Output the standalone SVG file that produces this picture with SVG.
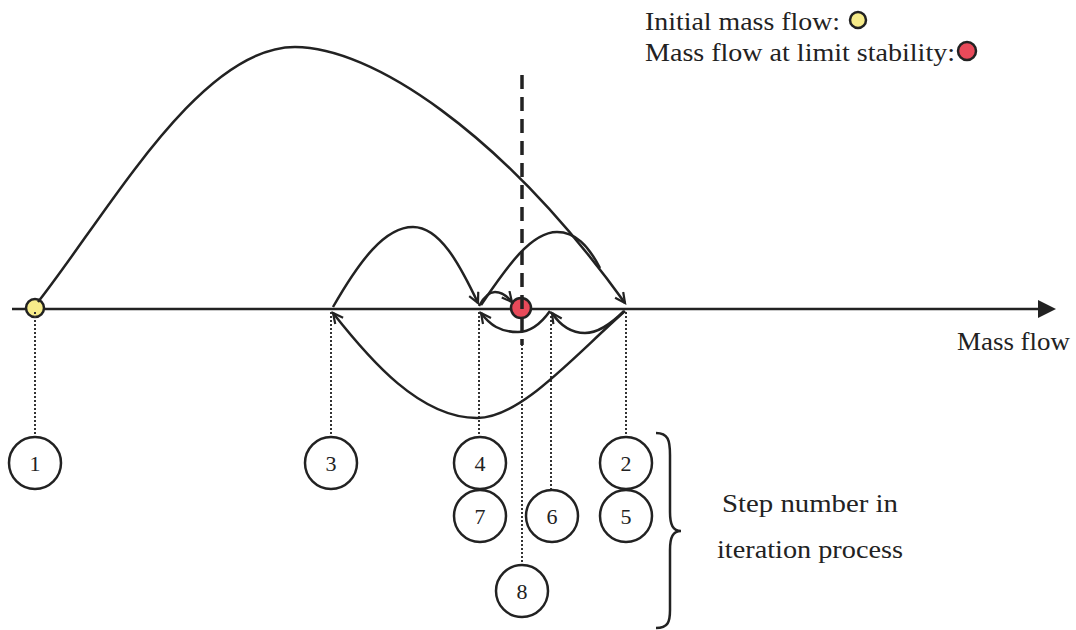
<svg xmlns="http://www.w3.org/2000/svg" width="1076" height="630" viewBox="0 0 1076 630">
<defs>
<style>
.txt{font-family:"Liberation Serif","DejaVu Serif",serif;fill:#222;}
.lbl{font-size:25px;}
.num{font-size:22px;text-anchor:middle;}
.node{fill:#fff;stroke:#222;stroke-width:2.5;}
.arc{fill:none;stroke:#222;stroke-width:2.5;}
.dot{fill:none;stroke:#333;stroke-width:2;stroke-dasharray:2,2;}
</style>
<marker id="ah" markerWidth="14" markerHeight="14" refX="11" refY="6" orient="auto" markerUnits="userSpaceOnUse">
<path d="M1,1 L11,6 L1,11" fill="none" stroke="#222" stroke-width="2.2"/>
</marker>
</defs>
<rect width="1076" height="630" fill="#fff"/>

<g id="legend">
<text class="txt lbl" x="645" y="30" textLength="195" lengthAdjust="spacingAndGlyphs">Initial mass flow:</text>
<circle cx="858" cy="20" r="8" fill="#f7ec8a" stroke="#222" stroke-width="2.5"/>
<text class="txt lbl" x="645" y="61" textLength="310" lengthAdjust="spacingAndGlyphs">Mass flow at limit stability:</text>
<circle cx="967" cy="51" r="9" fill="#e84a5a" stroke="#222" stroke-width="2.5"/>
</g>

<g id="axis">
<line x1="12" y1="309" x2="1040" y2="309" stroke="#222" stroke-width="2.5"/>
<polygon points="1038,300 1056,309 1038,318" fill="#222"/>
<text class="txt lbl" x="957" y="350" textLength="113" lengthAdjust="spacingAndGlyphs">Mass flow</text>
</g>

<g id="points">
<circle cx="35" cy="308" r="9" fill="#f7ec8a" stroke="#222" stroke-width="2.5"/>
<circle cx="521" cy="308" r="10" fill="#e84a5a" stroke="#222" stroke-width="2.5"/>
</g>

<g id="guides">
<line class="dot" x1="35" y1="312" x2="35" y2="437"/>
<line class="dot" x1="331" y1="312" x2="331" y2="437"/>
<line class="dot" x1="479" y1="312" x2="479" y2="437"/>
<line class="dot" x1="551" y1="312" x2="551" y2="490"/>
<line class="dot" x1="626" y1="312" x2="626" y2="437"/>
<line class="dot" x1="522" y1="340" x2="522" y2="565"/>
<line x1="522" y1="75" x2="522" y2="345" stroke="#222" stroke-width="3.5" stroke-dasharray="14,8"/>
</g>

<g id="connectors">
<path class="arc" d="M38,302 C110,210 200,47 295,47 C370,47 500,130 625,303" marker-end="url(#ah)"/>
<path class="arc" d="M333,307 C360,260 385,227 413,227 C440,227 460,265 478,303" marker-end="url(#ah)"/>
<path class="arc" d="M481,305 C505,270 530,232 557,232 C575,232 588,245 600,268"/>
<path class="arc" d="M479,306 C485,295 490,292 495,292 C502,292 507,296 512,302" marker-end="url(#ah)"/>
<path class="arc" d="M625,311 C570,360 520,418 477,418 C420,418 370,360 333,313" marker-end="url(#ah)"/>
<path class="arc" d="M624,311 C610,325 598,333 585,333 C570,333 560,325 552,313" marker-end="url(#ah)"/>
<path class="arc" d="M550,311 C540,325 530,332 518,332 C500,332 490,325 481,313" marker-end="url(#ah)"/>
</g>

<g id="n1"><circle class="node" cx="35" cy="463" r="26"/><text class="txt num" x="35" y="471">1</text></g>
<g id="n3"><circle class="node" cx="331" cy="463" r="26"/><text class="txt num" x="331" y="471">3</text></g>
<g id="n4"><circle class="node" cx="480" cy="463" r="26"/><text class="txt num" x="480" y="471">4</text></g>
<g id="n7"><circle class="node" cx="480" cy="516" r="26"/><text class="txt num" x="480" y="524">7</text></g>
<g id="n6"><circle class="node" cx="552" cy="516" r="26"/><text class="txt num" x="552" y="524">6</text></g>
<g id="n2"><circle class="node" cx="626" cy="463" r="26"/><text class="txt num" x="626" y="471">2</text></g>
<g id="n5"><circle class="node" cx="626" cy="516" r="26"/><text class="txt num" x="626" y="524">5</text></g>
<g id="n8"><circle class="node" cx="522" cy="591" r="26"/><text class="txt num" x="522" y="599">8</text></g>

<g id="brace">
<path d="M656,433 C668,433 670,440 670,455 L670,512 C670,525 673,531 681,531 C673,531 670,537 670,550 L670,610 C670,622 668,628 656,628" fill="none" stroke="#222" stroke-width="2.5"/>
<text class="txt lbl" x="722" y="512" textLength="176" lengthAdjust="spacingAndGlyphs">Step number in</text>
<text class="txt lbl" x="717" y="558" textLength="186" lengthAdjust="spacingAndGlyphs">iteration process</text>
</g>
</svg>
